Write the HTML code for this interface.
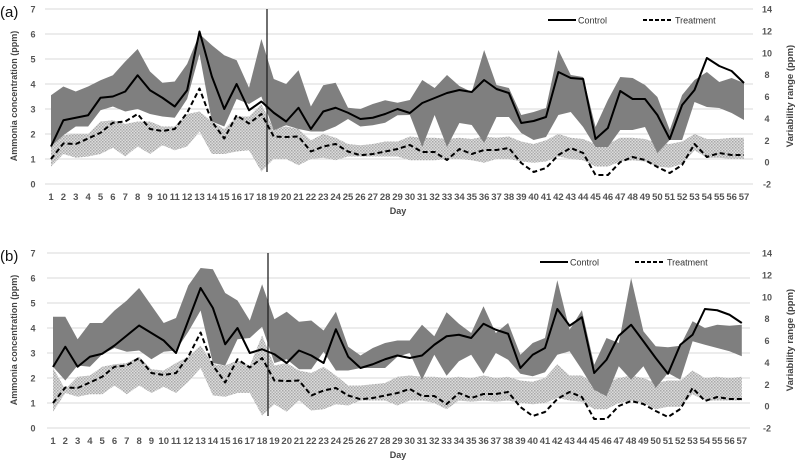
<!DOCTYPE html>
<html><head><meta charset="utf-8"><style>
body{margin:0;background:#fff;width:800px;height:466px;overflow:hidden}
svg{display:block;font-family:"Liberation Sans",sans-serif}
</style></head><body>
<svg id="s" width="800" height="466" xmlns="http://www.w3.org/2000/svg">
<defs>
<pattern id="h" width="3" height="3" patternUnits="userSpaceOnUse">
<rect width="3" height="3" fill="#dcdcdc"/><rect width="1.5" height="1.5" fill="#a8a8a8"/><rect x="1.5" y="1.5" width="1.5" height="1.5" fill="#b4b4b4"/>
</pattern>
</defs>
</svg>
<script>
const NS="http://www.w3.org/2000/svg",S=document.getElementById('s');
function el(t,a,txt){const e=document.createElementNS(NS,t);for(const k in a)e.setAttribute(k,a[k]);if(txt!=null)e.textContent=txt;S.appendChild(e);return e;}
const trt=[1.0,1.62,1.6,1.82,2.05,2.45,2.5,2.8,2.2,2.12,2.2,2.85,3.82,2.5,1.82,2.75,2.42,2.8,1.9,1.88,1.9,1.3,1.5,1.6,1.3,1.15,1.2,1.3,1.4,1.56,1.28,1.28,0.96,1.4,1.2,1.36,1.36,1.44,0.84,0.48,0.64,1.16,1.44,1.24,0.36,0.36,0.88,1.08,0.96,0.68,0.44,0.76,1.6,1.08,1.24,1.16,1.16];
const A={
ctl:[1.5,2.55,2.65,2.75,3.45,3.5,3.7,4.35,3.75,3.45,3.1,3.75,6.1,4.3,3.0,4.0,2.95,3.3,2.85,2.5,3.05,2.2,2.9,3.05,2.85,2.6,2.65,2.8,3.0,2.84,3.24,3.44,3.64,3.76,3.68,4.16,3.8,3.64,2.44,2.52,2.68,4.48,4.24,4.2,1.8,2.24,3.72,3.4,3.4,2.76,1.8,3.16,3.76,5.04,4.72,4.52,4.04],
du:[3.55,3.9,3.7,3.9,4.15,4.35,4.9,5.4,4.5,4.05,4.1,4.8,6.0,5.55,5.15,4.95,3.85,5.8,4.2,4.0,4.55,3.1,3.95,4.05,3.05,3.0,3.2,3.35,3.25,3.36,4.16,3.84,4.36,3.92,3.68,5.36,3.96,3.84,2.76,2.88,3.04,5.36,4.36,4.28,2.28,3.36,4.28,4.24,3.96,3.48,2.16,3.56,4.16,4.48,4.08,4.24,4.04],
dl:[1.5,1.95,2.3,2.3,2.95,3.1,2.9,3.0,2.8,2.7,2.65,3.4,5.2,2.5,2.3,3.4,3.2,3.5,2.15,2.35,2.2,2.1,2.1,2.3,2.6,2.3,2.35,2.45,2.75,2.76,1.48,2.76,1.48,2.44,2.36,1.64,2.68,2.68,2.04,1.76,1.88,2.76,2.88,2.28,1.48,1.48,2.16,2.16,2.28,1.24,1.76,1.76,3.28,3.08,3.04,2.84,2.56],
hu:[1.6,1.95,2.0,2.0,2.5,2.55,2.4,2.5,2.5,2.3,2.3,2.8,2.9,2.5,2.2,2.7,2.7,3.2,2.2,2.3,2.2,1.75,2.0,1.85,1.6,1.55,1.6,1.7,1.7,1.9,1.85,1.85,1.8,1.85,1.8,1.9,1.85,1.9,1.7,1.6,1.75,2.0,1.85,1.8,1.6,1.6,1.85,1.85,1.8,1.65,1.6,1.7,2.0,1.8,1.8,1.85,1.85],
hl:[0.7,1.2,1.05,1.1,1.2,1.45,1.1,1.5,1.2,1.55,1.35,1.5,2.1,1.2,1.2,1.3,1.35,0.5,1.0,1.0,0.75,1.0,1.05,0.95,1.1,1.1,1.1,1.1,1.1,0.95,0.95,0.95,1.0,1.0,0.95,0.85,1.0,1.0,0.9,0.85,0.9,1.1,1.0,0.95,0.7,0.7,0.9,0.95,0.9,0.7,0.65,0.8,1.35,1.05,1.05,1.0,1.0],
trt:trt};
const B={
ctl:[2.44,3.25,2.45,2.85,2.97,3.3,3.7,4.1,3.8,3.5,3.0,4.3,5.6,4.8,3.35,4.0,3.0,3.15,2.95,2.6,3.1,2.9,2.6,3.95,2.85,2.4,2.55,2.75,2.9,2.8,2.9,3.33,3.67,3.73,3.6,4.17,3.93,3.77,2.4,2.93,3.2,4.76,4.09,4.43,2.2,2.73,3.69,4.13,3.47,2.8,2.17,3.33,3.73,4.76,4.71,4.53,4.2],
du:[4.45,4.45,3.55,4.2,4.2,4.7,5.1,5.6,4.9,4.2,4.4,5.7,6.4,6.35,5.4,5.1,4.3,5.75,4.35,4.65,4.25,4.3,3.9,4.65,3.25,2.9,3.2,3.4,3.5,3.5,4.13,3.67,4.63,4.17,3.8,4.87,3.8,4.2,2.93,3.4,3.6,5.91,3.93,4.71,2.53,3.6,3.4,6.0,3.87,3.27,3.23,3.29,4.27,4.0,4.13,4.09,4.13],
dl:[2.45,1.9,2.5,2.45,2.95,3.2,3.05,3.1,2.75,3.05,3.1,3.85,4.7,2.6,2.5,3.55,3.6,4.05,2.6,2.75,2.35,2.35,3.05,2.3,2.3,2.4,2.4,2.4,2.85,3.0,1.93,2.93,2.09,2.67,2.93,2.17,3.0,2.73,2.17,2.07,2.23,2.93,3.07,2.33,1.53,1.27,2.47,1.93,2.47,1.6,2.2,1.93,3.47,3.33,3.2,3.07,2.87],
hu:[2.4,1.55,2.05,2.1,2.45,2.55,2.6,2.85,2.35,2.3,2.6,2.85,3.3,2.55,2.5,2.7,2.5,3.7,2.5,2.6,2.3,2.2,2.45,2.1,1.7,1.7,1.75,1.8,2.05,2.1,2.05,2.05,2.0,2.05,2.0,2.1,2.0,2.05,1.9,1.85,2.0,2.55,2.1,2.1,1.75,1.8,2.0,2.1,2.0,1.8,1.9,1.9,2.3,2.0,2.05,2.0,2.05],
hl:[0.65,1.4,1.25,1.35,1.35,1.7,1.35,1.7,1.4,1.65,1.4,1.85,2.4,1.3,1.25,1.4,1.4,0.5,0.95,0.65,1.1,0.7,0.75,0.95,0.9,1.1,1.1,1.1,0.9,1.1,1.1,1.0,0.75,1.1,1.05,1.1,1.05,1.1,1.0,0.95,1.0,1.2,1.1,1.05,0.75,0.75,1.0,1.1,1.0,0.75,0.85,0.85,1.35,1.1,1.1,1.1,1.1],
trt:trt};
function panel(D,o){
 const X=i=>o.x0+i*o.dx, Y=v=>o.y0-v*25;
 for(let k=0;k<=7;k++){el('line',{x1:o.gx0,x2:o.gx1,y1:Y(k),y2:Y(k),stroke:'#d9d9d9','stroke-width':1});
  el('text',{x:33,y:Y(k)+3.5,'font-size':9,'font-weight':'bold',fill:'#555','text-anchor':'middle'},k);}
 for(let j=0;j<=8;j++)el('text',{x:767,y:o.y0-j*21.875+3.5,'font-size':9,'font-weight':'bold',fill:'#555','text-anchor':'middle'},2*j-2);
 const band=(u,l,f)=>{let p=u.map((v,i)=>X(i)+','+Y(v)).join(' ')+' '+l.map((v,i)=>[i,v]).reverse().map(([i,v])=>X(i)+','+Y(v)).join(' ');el('polygon',{points:p,fill:f});};
 band(D.hu,D.hl,'url(#h)');band(D.du,D.dl,'#7f7f7f');
 el('line',{x1:o.vx,x2:o.vx,y1:o.y0-175,y2:o.y0-12,stroke:'#222','stroke-width':1.3});
 const line=(a,ex)=>el('polyline',Object.assign({points:a.map((v,i)=>X(i)+','+Y(v)).join(' '),fill:'none',stroke:'#000','stroke-width':2,'stroke-linejoin':'round'},ex||{}));
 line(D.trt,{'stroke-dasharray':'5,3'});line(D.ctl);
 for(let i=0;i<57;i++)el('text',{x:X(i),y:o.y0+16,'font-size':9.5,'font-weight':'bold',fill:'#555','text-anchor':'middle'},i+1);
 el('text',{x:398,y:o.y0+30,'font-size':9,'font-weight':'bold',fill:'#444','text-anchor':'middle'},'Day');
 el('text',{x:0,y:0,'font-size':9,'font-weight':'bold',fill:'#444','text-anchor':'middle',transform:`translate(17,${o.y0-88}) rotate(-90)`},'Ammonia concentration (ppm)');
 el('text',{x:0,y:0,'font-size':9.5,'font-weight':'bold',fill:'#444','text-anchor':'middle',transform:`translate(793,${o.y0-88}) rotate(-90)`},'Variability range (ppm)');
 el('line',{x1:o.lx,x2:o.lx+28,y1:o.ly,y2:o.ly,stroke:'#000','stroke-width':2});
 el('text',{x:o.lx+30,y:o.ly+3.5,'font-size':9,fill:'#333'},'Control');
 el('line',{x1:o.lx+95,x2:o.lx+125,y1:o.ly,y2:o.ly,stroke:'#000','stroke-width':2,'stroke-dasharray':'4,2'});
 el('text',{x:o.lx+127,y:o.ly+3.5,'font-size':9,fill:'#333'},'Treatment');
 el('text',{x:0,y:o.y0-167,'font-size':15,fill:'#111'},o.lab);
}
panel(A,{x0:51,dx:12.375,y0:184,gx0:45,gx1:753,vx:267,lx:548,ly:20,lab:'(a)'});
panel(B,{x0:53,dx:12.3,y0:428,gx0:47,gx1:750,vx:268,lx:540,ly:262,lab:'(b)'});
</script>
</body></html>
